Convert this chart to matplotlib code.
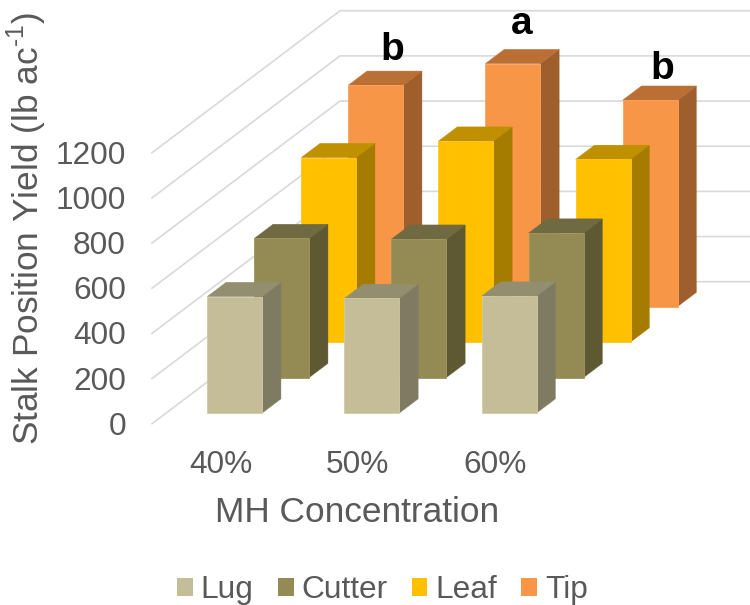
import matplotlib
matplotlib.use("Agg")
import matplotlib.pyplot as plt
from matplotlib.patches import Patch, Polygon

plt.rcParams['font.family'] = ['Liberation Sans', 'DejaVu Sans']
plt.rcParams['mathtext.fontset'] = 'custom'
plt.rcParams['mathtext.rm'] = 'Liberation Sans'

concentrations = ['40%', '50%', '60%']
series_names = ['Lug', 'Cutter', 'Leaf', 'Tip']
lug = [516, 508, 518]
cutter = [616, 613, 640]
leaf = [817, 890, 809]
tip = [980, 1076, 914]
series_values = [lug, cutter, leaf, tip]
y_ticks = [0, 200, 400, 600, 800, 1000, 1200]
tip_letters = ['b', 'a', 'b']

front_colors = ['#C4BD97', '#948A54', '#FFC000', '#F79646']
side_colors = ['#7F7B62', '#5E5833', '#A67C00', '#9F5F2C']
top_colors = ['#938E70', '#706A42', '#BF9000', '#BA6F34']
edge_colors = ['#D0CAAA', '#A09663', '#FFC61F', '#F8A25F']
grid_color = '#D9D9D9'
text_color = '#595959'

#oblique projection of the chart box on the picture, in pixels
X0 = 152.0      #left front corner of the floor
Y0 = 423.7
CAT_W = 137.2   #width of one category
DEPTH_X = 47.0  #shift for one series row going back
DEPTH_Y = 35.5
VAL_H = 0.2258  #pixels per yield unit
BAR_W = 0.4     #fraction of a category
BAR_D = 0.4     #fraction of a series row

FS_TICK = 22.8
FS_TITLE = 25.4
FS_LEG = 22.8


def project(cat, val, depth):
    x = X0 + CAT_W*cat + DEPTH_X*depth
    y = Y0 - VAL_H*val - DEPTH_Y*depth
    return x, y


def draw_bar(ax, i_cat, i_ser, val):
    c0 = i_cat + 0.5 - BAR_W/2
    c1 = i_cat + 0.5 + BAR_W/2
    d0 = i_ser + 0.5 - BAR_D/2
    d1 = i_ser + 0.5 + BAR_D/2

    side = [project(c1, 0, d0), project(c1, 0, d1), project(c1, val, d1), project(c1, val, d0)]
    top = [project(c0, val, d0), project(c1, val, d0), project(c1, val, d1), project(c0, val, d1)]
    front = [project(c0, 0, d0), project(c1, 0, d0), project(c1, val, d0), project(c0, val, d0)]

    ax.add_patch(Polygon(side, fc=side_colors[i_ser], ec=side_colors[i_ser], lw=0.3))
    ax.add_patch(Polygon(top, fc=top_colors[i_ser], ec=top_colors[i_ser], lw=0.3))
    ax.add_patch(Polygon(front, fc=front_colors[i_ser], ec=edge_colors[i_ser], lw=0.6))


fig = plt.figure(figsize=(7.5, 6.05), dpi=100)
ax = fig.add_axes([0, 0, 1, 1])
ax.set_xlim(0, 750)
ax.set_ylim(605, 0)
ax.axis('off')

n_cat = len(concentrations)
n_ser = len(series_names)

#gridlines: along the side wall, then along the back wall
for v in y_ticks:
    pts = [project(0, v, 0), project(0, v, n_ser), project(n_cat, v, n_ser)]
    ax.plot([p[0] for p in pts], [p[1] for p in pts], color=grid_color, lw=1.2,
            solid_joinstyle='miter', zorder=0)
    ax.text(X0 - 26, project(0, v, 0)[1] + 3, str(v), ha='right', va='center',
            fontsize=FS_TICK, color=text_color)

#back row first so the front rows cover it
for i_ser in range(n_ser - 1, -1, -1):
    for i_cat in range(n_cat):
        draw_bar(ax, i_cat, i_ser, series_values[i_ser][i_cat])

for i_cat, name in enumerate(concentrations):
    x, y = project(i_cat + 0.5, 0, 0)
    ax.text(x, y + 41.5, name, ha='center', va='center', fontsize=FS_TICK, color=text_color)

#the letters were placed by hand in the original
letter_x = [392, 522, 662]
letter_y = [60, 34, 79]
for s, x, y in zip(tip_letters, letter_x, letter_y):
    ax.text(x, y, s, ha='center', va='baseline', fontsize=28, fontweight='bold', color='black')

ax.text(357, 512, 'MH Concentration', ha='center', va='center', fontsize=FS_TITLE, color=text_color)
ax.text(27, 229, r'Stalk Position Yield (lb ac$^{\text{-1}}$)', rotation=90, ha='center', va='center',
        fontsize=FS_TITLE, color=text_color)

handles = [Patch(fc=c, ec='none') for c in front_colors]
leg = ax.legend(handles, series_names, ncol=4, frameon=False, fontsize=FS_LEG,
                loc='lower left', bbox_to_anchor=(177/750, 0.0), borderpad=0, borderaxespad=0,
                handlelength=0.5, handleheight=0.5, handletextpad=0.25, columnspacing=0.76)
for t in leg.get_texts():
    t.set_color(text_color)

fig.savefig('out.png', dpi=100)
